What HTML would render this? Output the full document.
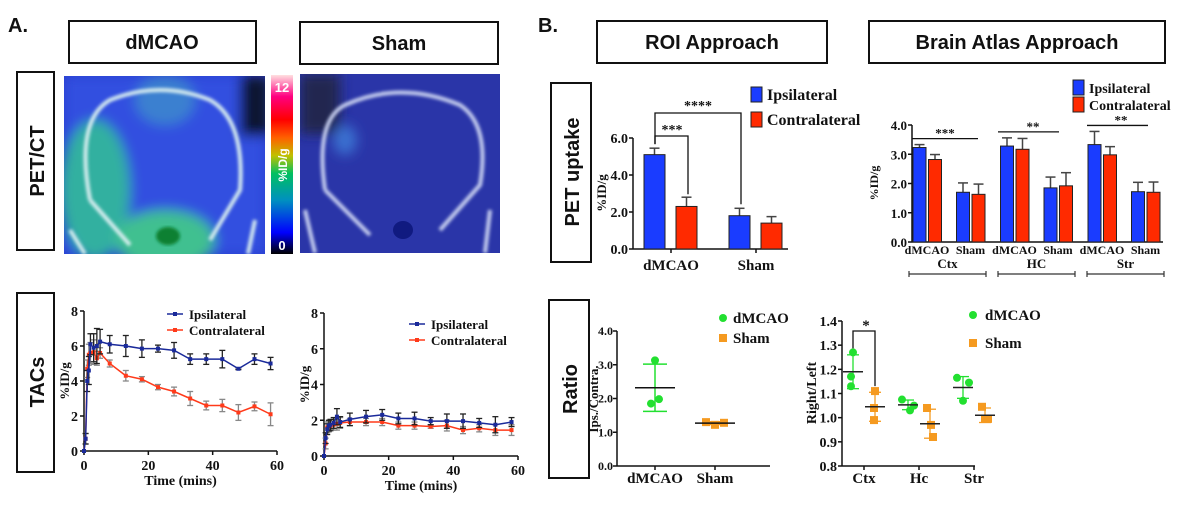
<!DOCTYPE html>
<html><head><meta charset="utf-8"><style>
body{margin:0;background:#fff;width:1200px;height:508px;overflow:hidden}
svg{display:block}
.t{font-family:"Liberation Serif",serif;font-weight:bold;fill:#111}
.s{font-family:"Liberation Sans",sans-serif;font-weight:bold;fill:#111}
</style></head><body>
<svg id="fig" width="1200" height="508" viewBox="0 0 1200 508" xmlns="http://www.w3.org/2000/svg">
<defs>
<filter id="bl" x="-20%" y="-20%" width="140%" height="140%"><feGaussianBlur stdDeviation="6"/></filter>
<filter id="bl2"><feGaussianBlur stdDeviation="1.5"/></filter>
<linearGradient id="cb" x1="0" y1="1" x2="0" y2="0">
<stop offset="0" stop-color="#000"/><stop offset="0.12" stop-color="#0000ff"/><stop offset="0.3" stop-color="#0090c0"/><stop offset="0.45" stop-color="#00c060"/><stop offset="0.55" stop-color="#c0c000"/><stop offset="0.65" stop-color="#ff6000"/><stop offset="0.75" stop-color="#ff0000"/><stop offset="0.88" stop-color="#ff0080"/><stop offset="1" stop-color="#ffe0e0"/></linearGradient>
<clipPath id="c1"><rect x="64" y="76" width="201" height="178"/></clipPath>
<clipPath id="c2"><rect x="300" y="74" width="200" height="179"/></clipPath>
</defs>
<text class="s" x="8" y="32" font-size="20">A.</text>
<text class="s" x="538" y="32" font-size="20">B.</text>
<g><rect x="69" y="21" width="187" height="42" fill="#fff" stroke="#111" stroke-width="2"/><text class="s" x="162" y="49" font-size="20" text-anchor="middle">dMCAO</text></g>
<g><rect x="300" y="22" width="198" height="42" fill="#fff" stroke="#111" stroke-width="2"/><text class="s" x="399" y="50" font-size="20" text-anchor="middle">Sham</text></g>
<g><rect x="597" y="21" width="230" height="42" fill="#fff" stroke="#111" stroke-width="2"/><text class="s" x="712" y="49" font-size="20" text-anchor="middle">ROI Approach</text></g>
<g><rect x="869" y="21" width="296" height="42" fill="#fff" stroke="#111" stroke-width="2"/><text class="s" x="1017" y="49" font-size="20" text-anchor="middle">Brain Atlas Approach</text></g>
<g><rect x="17" y="72" width="37" height="178" fill="#fff" stroke="#111" stroke-width="2"/><text class="s" font-size="20" transform="translate(44,161) rotate(-90)" text-anchor="middle">PET/CT</text></g>
<g><rect x="17" y="293" width="37" height="179" fill="#fff" stroke="#111" stroke-width="2"/><text class="s" font-size="20" transform="translate(44,382) rotate(-90)" text-anchor="middle">TACs</text></g>
<g><rect x="551" y="83" width="40" height="179" fill="#fff" stroke="#111" stroke-width="2"/><text class="s" font-size="20" transform="translate(579,172) rotate(-90)" text-anchor="middle">PET uptake</text></g>
<g><rect x="549" y="300" width="40" height="178" fill="#fff" stroke="#111" stroke-width="2"/><text class="s" font-size="20" transform="translate(577,389) rotate(-90)" text-anchor="middle">Ratio</text></g>

<g clip-path="url(#c1)">
<rect x="64" y="76" width="201" height="178" fill="#2a3fd0"/>
<g filter="url(#bl)">
<rect x="64" y="76" width="201" height="178" fill="#3050e0"/>
<ellipse cx="95" cy="190" rx="35" ry="70" fill="#30b0a0"/>
<ellipse cx="165" cy="240" rx="50" ry="30" fill="#40c090"/>
<ellipse cx="165" cy="100" rx="30" ry="25" fill="#3a80d0"/>
<rect x="240" y="76" width="30" height="60" fill="#101830"/>
</g>
<g filter="url(#bl2)" fill="none" stroke="#d8eef0" stroke-width="4">
<path d="M90 200 Q75 120 110 100 Q160 80 210 100 Q245 120 240 190 L210 240 M90 200 L130 245"/>
<path d="M70 230 L85 254 M255 220 L248 254"/>
</g>
<ellipse cx="168" cy="236" rx="12" ry="9" fill="#108030" filter="url(#bl2)"/>
</g>
<g><rect x="271" y="75" width="22" height="179" fill="url(#cb)"/>
<text class="s" x="282" y="92" font-size="13" style="fill:#fff" text-anchor="middle">12</text>
<text class="s" x="282" y="250" font-size="13" style="fill:#fff" text-anchor="middle">0</text>
<text class="s" font-size="12" style="fill:#fff" transform="translate(287,165) rotate(-90)" text-anchor="middle">%ID/g</text></g>
<g clip-path="url(#c2)">
<rect x="300" y="74" width="200" height="179" fill="#2a35a8"/>
<g filter="url(#bl)"><rect x="300" y="74" width="40" height="60" fill="#202850"/><ellipse cx="345" cy="140" rx="12" ry="15" fill="#3a70d0"/></g>
<g filter="url(#bl2)" fill="none" stroke="#c8d0f0" stroke-width="4">
<path d="M325 190 Q315 120 345 105 Q400 80 460 105 Q490 125 480 185 L440 230 M325 190 L370 235"/>
<path d="M305 210 L315 253 M490 210 L485 253"/></g>
<ellipse cx="403" cy="230" rx="10" ry="9" fill="#101a80"/>
</g>
<g id="charts"></g>
</svg>
<script>
// ===== TAC chart data =====
const tacTimes=[0,0.5,1,1.5,2,3,4,5,8,13,18,23,28,33,38,43,48,53,58];
const tac1Ips=[0,0.7,4,4.6,6.1,5.9,6.0,6.25,6.1,6.0,5.85,5.85,5.75,5.25,5.25,5.25,4.7,5.25,5.0];
const tac1IpsErr=[0,0.3,0.6,0.8,0.6,0.8,1.0,0.7,0.5,0.6,0.5,0.2,0.45,0.3,0.3,0.5,0.05,0.3,0.35];
const tac1Con=[0,0.7,4.7,5.5,5.6,5.65,5.3,5.6,5.0,4.3,4.1,3.65,3.4,3.0,2.6,2.6,2.2,2.55,2.1];
const tac1ConErr=[0,0.3,0.5,0.6,0.6,0.7,0.4,0.3,0.2,0.3,0.15,0.15,0.25,0.4,0.25,0.35,0.45,0.25,0.65];
const tac2Ips=[0,1.0,1.5,1.7,1.75,1.85,2.2,1.9,2.05,2.2,2.3,2.1,2.1,1.95,1.95,1.95,1.85,1.75,1.9];
const tac2IpsErr=[0,0.3,0.3,0.3,0.3,0.3,0.45,0.3,0.35,0.35,0.3,0.3,0.35,0.2,0.4,0.4,0.25,0.45,0.25];
const tac2Con=[0,0.7,1.6,1.65,1.7,1.75,1.8,1.85,1.9,1.9,1.9,1.7,1.7,1.65,1.7,1.45,1.55,1.45,1.45];
const tac2ConErr=[0,0.3,0.3,0.3,0.3,0.3,0.35,0.3,0.2,0.2,0.2,0.2,0.2,0.1,0.3,0.2,0.2,0.3,0.3];
const tacXTicks=[0,20,40,60];
const tacYTicks=[0,2,4,6,8];
// ===== ROI bar data =====
const roiGroups=["dMCAO","Sham"];
const roiIps=[5.1,1.8];
const roiIpsErr=[0.35,0.4];
const roiCon=[2.3,1.4];
const roiConErr=[0.5,0.35];
const roiYTicks=["0.0","2.0","4.0","6.0"];
// ===== Atlas bar data =====
const atlasRegions=["Ctx","HC","Str"];
const atlasSub=["dMCAO","Sham"];
const atlasIps=[3.23,1.7,3.28,1.85,3.33,1.72];
const atlasIpsErr=[0.1,0.32,0.28,0.37,0.45,0.32];
const atlasCon=[2.82,1.63,3.17,1.92,2.98,1.7];
const atlasConErr=[0.17,0.35,0.37,0.45,0.28,0.35];
const atlasYTicks=["0.0","1.0","2.0","3.0","4.0"];
const atlasSig=["***","**","**"];
// ===== Ratio scatter data =====
const ratioGroups=["dMCAO","Sham"];
const ratioPts=[[3.13,1.85,1.98],[1.3,1.22,1.28]];
const ratioMean=[2.32,1.27];
const ratioSD=[0.7,0.04];
const ratioYTicks=["0.0","1.0","2.0","3.0","4.0"];
// ===== Right/Left scatter data =====
const rlRegions=["Ctx","Hc","Str"];
const rlDm=[[1.27,1.17,1.13],[1.075,1.03,1.05],[1.165,1.145,1.07]];
const rlSh=[[1.11,1.04,0.99],[1.04,0.97,0.92],[1.045,0.995,0.995]];
const rlDmMean=[1.19,1.053,1.125];
const rlDmSD=[0.07,0.02,0.045];
const rlShMean=[1.045,0.975,1.01];
const rlShSD=[0.06,0.06,0.03];
const rlYTicks=["0.8","0.9","1.0","1.1","1.2","1.3","1.4"];

const NS="http://www.w3.org/2000/svg";
const root=document.getElementById('charts');
function el(tag,attrs,parent,txt){const e=document.createElementNS(NS,tag);for(const k in attrs)e.setAttribute(k,attrs[k]);if(txt!==undefined)e.textContent=txt;(parent||root).appendChild(e);return e;}
function line(p,x1,y1,x2,y2,c,w){return el('line',{x1,y1,x2,y2,stroke:c||'#111','stroke-width':w||1.5},p);}
function txt(p,x,y,s,size,anchor,fill){return el('text',{x,y,class:'t','font-size':size,'text-anchor':anchor||'middle',style:fill?'fill:'+fill:''},p,s);}
function lin(d0,d1,r0,r1){return v=>r0+(v-d0)/(d1-d0)*(r1-r0);}

// ---------- TAC charts ----------
function tacChart(name,ax,ax60,y0,y8,ips,ipsE,con,conE,legX,legY){
  const g=el('g',{});
  
  
  const X=lin(0,60,ax,ax60),Y=lin(0,8,y0,y8);
  line(g,ax,y8,ax,y0);line(g,ax,y0,ax60,y0);
  tacYTicks.forEach(t=>{line(g,ax-4,Y(t),ax,Y(t));txt(g,ax-6,Y(t)+5,String(t),14,'end');});
  tacXTicks.forEach(t=>{line(g,X(t),y0,X(t),y0+4);txt(g,X(t),y0+19,String(t),14);});
  const yl=txt(g,0,0,'%ID/g',13);yl.setAttribute('transform',`translate(${ax-15},${(y0+y8)/2}) rotate(-90)`);
  txt(g,(ax+ax60)/2,y0+34,'Time (mins)',14);
  [[con,conE,'#ff3a1a','#888'],[ips,ipsE,'#1a2a9a','#222']].forEach(([v,e,c,ec])=>{
    tacTimes.forEach((t,i)=>{if(e[i]>0){line(g,X(t),Y(v[i]+e[i]),X(t),Y(v[i]-e[i]),ec,1.3);line(g,X(t)-3,Y(v[i]+e[i]),X(t)+3,Y(v[i]+e[i]),ec,1.3);line(g,X(t)-3,Y(v[i]-e[i]),X(t)+3,Y(v[i]-e[i]),ec,1.3);}});
    const pl=el('polyline',{points:tacTimes.map((t,i)=>X(t)+','+Y(v[i])).join(' '),fill:'none',stroke:c,'stroke-width':1.5},g);
    
    
    tacTimes.forEach((t,i)=>el('rect',{x:X(t)-2,y:Y(v[i])-2,width:4,height:4,fill:c},g));
  });
  const lg=el('g',{},g);
  
  
  line(lg,legX,legY,legX+16,legY,'#1a2a9a');el('rect',{x:legX+6,y:legY-2,width:4,height:4,fill:'#1a2a9a'},lg);txt(lg,legX+22,legY+5,'Ipsilateral',13,'start');
  line(lg,legX,legY+16,legX+16,legY+16,'#ff3a1a');el('rect',{x:legX+6,y:legY+14,width:4,height:4,fill:'#ff3a1a'},lg);txt(lg,legX+22,legY+21,'Contralateral',13,'start');
}
tacChart('tac-chart-dmcao',84,277,451,311,tac1Ips,tac1IpsErr,tac1Con,tac1ConErr,167,314);
tacChart('tac-chart-sham',324,518,456,313,tac2Ips,tac2IpsErr,tac2Con,tac2ConErr,409,324);

function bar(g,x,w,y0,Y,v,e,fill){
  line(g,x+w/2,Y(v),x+w/2,Y(v+e),'#444',1.5);line(g,x+w/2-5,Y(v+e),x+w/2+5,Y(v+e),'#444',1.5);
  const r=el('rect',{x,y:Y(v),width:w,height:y0-Y(v),fill,stroke:'#222','stroke-width':1},g);
  
  
}
function legendBars(g,x,y,gap,size){
  el('rect',{x,y,width:11,height:15,fill:'#1a3cff',stroke:'#222'},g);txt(g,x+16,y+13,'Ipsilateral',size,'start');
  el('rect',{x,y:y+gap,width:11,height:15,fill:'#ff2a00',stroke:'#222'},g);txt(g,x+16,y+gap+13,'Contralateral',size,'start');
}
// ---------- ROI ----------
(function(){
  const g=el('g',{});
  
  
  const ax=633,y0=249,Y=lin(0,6,y0,138);
  line(g,ax,138,ax,y0);line(g,ax,y0,788,y0);
  roiYTicks.forEach(t=>{line(g,ax-4,Y(+t),ax,Y(+t));txt(g,ax-5,Y(+t)+5,t,14,'end');});
  const yl=txt(g,0,0,'%ID/g',13);yl.setAttribute('transform',`translate(606,193) rotate(-90)`);
  const cx=[671,756];
  roiGroups.forEach((n,i)=>{line(g,cx[i],y0,cx[i],y0+4);txt(g,cx[i],y0+21,n,15);
    bar(g,cx[i]-27,21,y0,Y,roiIps[i],roiIpsErr[i],'#1a3cff');bar(g,cx[i]+5,21,y0,Y,roiCon[i],roiConErr[i],'#ff2a00');});
  const t1=Y(roiIps[0]+roiIpsErr[0])-4;
  el('polyline',{points:`655,${t1} 655,113 741,113 741,${Y(roiIps[1]+roiIpsErr[1])-4}`,fill:'none',stroke:'#111','stroke-width':1.3},g);
  txt(g,698,110,'****',14);
  el('polyline',{points:`655,${t1} 655,136 688,136 688,${Y(roiCon[0]+roiConErr[0])-3}`,fill:'none',stroke:'#111','stroke-width':1.3},g);
  txt(g,672,134,'***',14);
  legendBars(g,751,87,25,16);
})();
// ---------- Atlas ----------
(function(){
  const g=el('g',{});
  
  
  const ax=912,y0=242,Y=lin(0,4,y0,125);
  line(g,ax,125,ax,y0);line(g,ax,y0,1163,y0);
  atlasYTicks.forEach(t=>{line(g,ax-4,Y(+t),ax,Y(+t));txt(g,ax-5,Y(+t)+5,t,13,'end');});
  const yl=txt(g,0,0,'%ID/g',12);yl.setAttribute('transform',`translate(878,183) rotate(-90)`);
  for(let k=0;k<6;k++){
    const gx=913+Math.floor(k/2)*87.5+(k%2)*43.5;
    bar(g,gx,13,y0,Y,atlasIps[k],atlasIpsErr[k],'#1a3cff');bar(g,gx+15.5,13,y0,Y,atlasCon[k],atlasConErr[k],'#ff2a00');
    txt(g,gx+14,254,atlasSub[k%2],12);
  }
  atlasRegions.forEach((r,i)=>{const x0=909+i*89,x1=x0+77;txt(g,(x0+x1)/2,268,r,13);
    line(g,x0,274,x1,274,'#333',1.2);line(g,x0,271,x0,277,'#333',1.2);line(g,x1,271,x1,277,'#333',1.2);
    const top=Y(Math.max(atlasIps[i*2]+atlasIpsErr[i*2],atlasCon[i*2]+atlasConErr[i*2]))-6;
    line(g,912+i*89-(i?3:0),top,978+i*89-(i?8:0),top,'#111',1.3);txt(g,945+i*88,top-1,atlasSig[i],13);
  });
  legendBars(g,1073,80,17,14);
})();
// ---------- Ratio ----------
function dot(g,x,y,c){const d=el('circle',{cx:x,cy:y,r:4,fill:c},g);}
function sq(g,x,y,c){const d=el('rect',{x:x-4,y:y-4,width:8,height:8,fill:c},g);}
const GR='#22e030',OR='#f59a20';
(function(){
  const g=el('g',{});
  
  
  const ax=617,y0=466,Y=lin(0,4,y0,331);
  line(g,ax,331,ax,y0);line(g,ax,y0,770,y0);
  ratioYTicks.forEach(t=>{line(g,ax-4,Y(+t),ax,Y(+t));txt(g,ax-4,Y(+t)+4,t,12,'end');});
  const yl=txt(g,0,0,'Ips./Contra.',13);yl.setAttribute('transform',`translate(598,399) rotate(-90)`);
  const cx=[655,715],off=[[0,-4,4],[-6,0,6]];
  ratioGroups.forEach((n,i)=>{line(g,cx[i],y0,cx[i],y0+4);txt(g,cx[i],483,n,15);
    const c=i?OR:GR;
    line(g,cx[i],Y(ratioMean[i]-ratioSD[i]),cx[i],Y(ratioMean[i]+ratioSD[i]),c,1.5);
    [-1,1].forEach(s=>line(g,cx[i]-12,Y(ratioMean[i]+s*ratioSD[i]),cx[i]+12,Y(ratioMean[i]+s*ratioSD[i]),c,1.5));
    ratioPts[i].forEach((v,j)=>i?sq(g,cx[i]+off[i][j]*1.5,Y(v),c):dot(g,cx[i]+off[i][j],Y(v),c));
    line(g,cx[i]-20,Y(ratioMean[i]),cx[i]+20,Y(ratioMean[i]),'#111',1.5);
  });
  dot(g,723,318,GR);txt(g,733,323,'dMCAO',15,'start');sq(g,723,338,OR);txt(g,733,343,'Sham',15,'start');
})();
// ---------- Right/Left ----------
(function(){
  const g=el('g',{});
  
  
  const ax=842,y0=466,Y=lin(0.8,1.4,y0,321);
  line(g,ax,321,ax,y0);line(g,ax,y0,975,y0);
  rlYTicks.forEach(t=>{line(g,ax-4,Y(+t),ax,Y(+t));txt(g,ax-5,Y(+t)+5,t,14,'end');});
  const yl=txt(g,0,0,'Right/Left',14);yl.setAttribute('transform',`translate(816,393) rotate(-90)`);
  const cx=[864,919,974],off=[[0,-1,-1],[-3,1,3],[-3,3,0]];
  rlRegions.forEach((n,i)=>{line(g,cx[i],y0,cx[i],y0+4);txt(g,cx[i],483,n,15);
    [[rlDm,rlDmMean,rlDmSD,GR,-11],[rlSh,rlShMean,rlShSD,OR,11]].forEach(([pts,m,sd,c,dx],k)=>{
      const x=cx[i]+dx;
      line(g,x,Y(m[i]-sd[i]),x,Y(m[i]+sd[i]),c,1.3);
      [-1,1].forEach(s=>line(g,x-6,Y(m[i]+s*sd[i]),x+6,Y(m[i]+s*sd[i]),c,1.3));
      pts[i].forEach((v,j)=>k?sq(g,x+off[i][j],Y(v),c):dot(g,x+off[i][j]*2,Y(v),c));
      line(g,x-10,Y(m[i]),x+10,Y(m[i]),'#222',1.5);
    });
  });
  el('polyline',{points:`853,${Y(1.27)-4} 853,331 875,331 875,${Y(1.11)-5}`,fill:'none',stroke:'#111','stroke-width':1.3},g);
  txt(g,866,330,'*',15);
  dot(g,973,315,GR);txt(g,985,320,'dMCAO',15,'start');sq(g,973,343,OR);txt(g,985,348,'Sham',15,'start');
})();
</script>
</body></html>
